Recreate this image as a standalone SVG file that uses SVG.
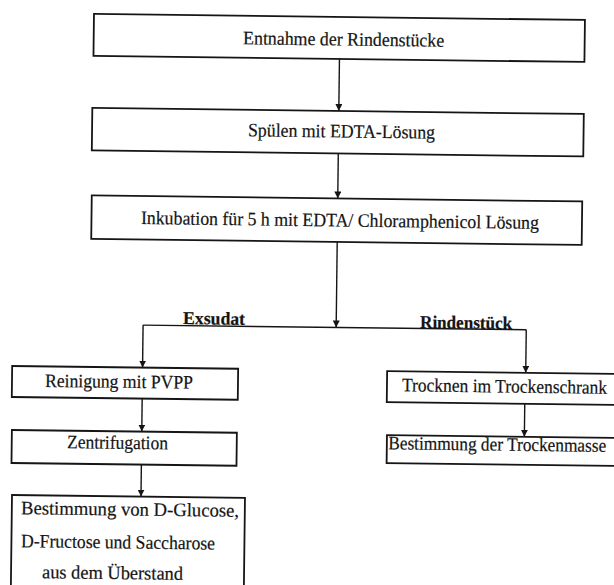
<svg xmlns="http://www.w3.org/2000/svg" width="614" height="585" viewBox="0 0 614 585">
  <style>
    .box { fill: #ffffff; stroke: #151515; stroke-width: 1.8; }
    .lbl { font-family: "Liberation Serif", "Times New Roman", serif; font-size: 19px; fill: #141414; stroke: #141414; stroke-width: 0.2; }
    .branch { font-weight: bold; font-size: 18px; }
    .wire { fill: none; stroke: #151515; stroke-width: 1.4; }
  </style>
  <defs>
    <marker id="arrow" markerUnits="userSpaceOnUse" markerWidth="7" markerHeight="7" refX="7" refY="3.5" orient="auto">
      <path d="M0,0 L7,3.5 L0,7 z" fill="#151515"/>
    </marker>
  </defs>
  <rect width="614" height="585" fill="#ffffff"/>

  <!-- whole sheet sits at a slight slant -->
  <g transform="rotate(0.7 300 300)">
    <g id="connectors">
      <line class="wire" x1="336.5" y1="58.5" x2="336.5" y2="110.5" marker-end="url(#arrow)"/>
      <line class="wire" x1="336.5" y1="153" x2="336.5" y2="198" marker-end="url(#arrow)"/>
      <line class="wire" x1="336.5" y1="241.5" x2="336.5" y2="327" marker-end="url(#arrow)"/>
      <line class="wire" x1="143.4" y1="327" x2="526.6" y2="327"/>
      <line class="wire" x1="143.4" y1="327" x2="143.4" y2="369.5" marker-end="url(#arrow)"/>
      <line class="wire" x1="526.6" y1="327" x2="526.6" y2="370" marker-end="url(#arrow)"/>
      <line class="wire" x1="143.4" y1="400.5" x2="143.4" y2="433.5" marker-end="url(#arrow)"/>
      <line class="wire" x1="143.4" y1="466.5" x2="143.4" y2="498.5" marker-end="url(#arrow)"/>
      <line class="wire" x1="526" y1="401" x2="526" y2="434" marker-end="url(#arrow)"/>
      <text class="lbl branch" x="183.3" y="325.5" textLength="62" lengthAdjust="spacingAndGlyphs">Exsudat</text>
      <text class="lbl branch" x="420.4" y="326.5" textLength="92" lengthAdjust="spacingAndGlyphs">Rindenstück</text>
    </g>

    <g id="entnahme">
      <rect class="box" x="90.5" y="16.5" width="491" height="42"/>
      <text class="lbl" x="240" y="45" textLength="201" lengthAdjust="spacingAndGlyphs">Entnahme der Rindenstücke</text>
    </g>

    <g id="spuelen">
      <rect class="box" x="90" y="110.5" width="491.5" height="42.5"/>
      <text class="lbl" x="246" y="137" textLength="187" lengthAdjust="spacingAndGlyphs">Spülen mit EDTA-Lösung</text>
    </g>

    <g id="inkubation">
      <rect class="box" x="90.5" y="198" width="490.5" height="43.5"/>
      <text class="lbl" x="140" y="226" textLength="398" lengthAdjust="spacingAndGlyphs">Inkubation für 5 h mit EDTA/ Chloramphenicol Lösung</text>
    </g>

    <g id="reinigung">
      <rect class="box" x="13" y="369.5" width="226" height="31"/>
      <text class="lbl" x="46" y="390" textLength="148" lengthAdjust="spacingAndGlyphs">Reinigung mit PVPP</text>
    </g>

    <g id="zentrifugation">
      <rect class="box" x="13.5" y="433.5" width="225" height="33"/>
      <text class="lbl" x="68.8" y="451" textLength="101" lengthAdjust="spacingAndGlyphs">Zentrifugation</text>
    </g>

    <g id="bestimmung-zucker">
      <rect class="box" x="14.4" y="498.5" width="233" height="110"/>
      <text class="lbl" x="23.6" y="517.6" textLength="218" lengthAdjust="spacingAndGlyphs">Bestimmung von D-Glucose,</text>
      <text class="lbl" x="24" y="550.6" textLength="194" lengthAdjust="spacingAndGlyphs">D-Fructose und Saccharose</text>
      <text class="lbl" x="45.4" y="581.3" textLength="141" lengthAdjust="spacingAndGlyphs">aus dem Überstand</text>
    </g>

    <g id="trocknen">
      <rect class="box" x="388" y="370" width="260" height="31"/>
      <text class="lbl" x="403.1" y="390" textLength="205" lengthAdjust="spacingAndGlyphs">Trocknen im Trockenschrank</text>
    </g>

    <g id="trockenmasse">
      <rect class="box" x="388.6" y="434" width="260" height="28"/>
      <text class="lbl" x="390" y="448.2" textLength="218" lengthAdjust="spacingAndGlyphs">Bestimmung der Trockenmasse</text>
    </g>
  </g>
</svg>
